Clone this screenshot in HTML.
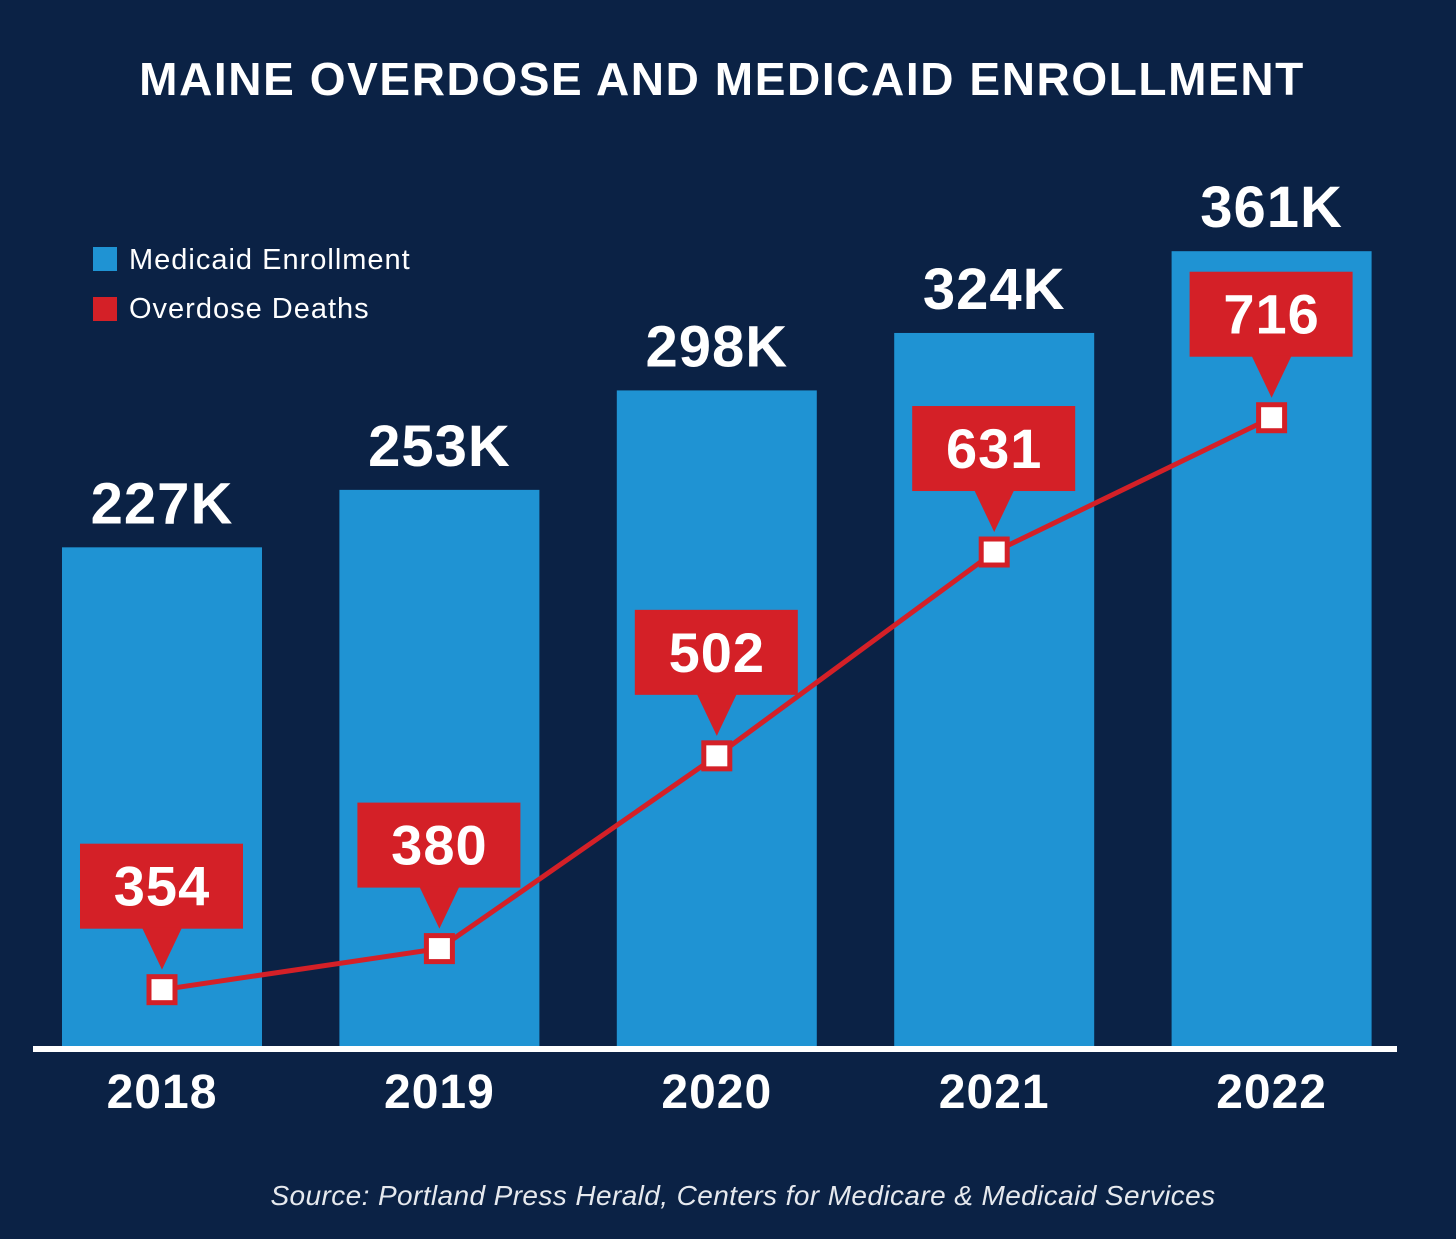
<!DOCTYPE html>
<html><head><meta charset="utf-8">
<style>
html,body{margin:0;padding:0;background:#0b2245;}
svg{display:block;font-family:"Liberation Sans",sans-serif;}
</style></head>
<body>
<svg id="chart" width="1456" height="1239" viewBox="0 0 1456 1239" xmlns="http://www.w3.org/2000/svg">
<rect x="0" y="0" width="1456" height="1239" fill="#0b2245"/>
<text x="722" y="95" text-anchor="middle" fill="#fff" font-size="46" font-weight="bold" letter-spacing="1.6">MAINE OVERDOSE AND MEDICAID ENROLLMENT</text>
<g>
<rect x="93" y="247" width="24" height="24" fill="#1f93d3"/>
<text x="129" y="269" fill="#fff" font-size="29" letter-spacing="1">Medicaid Enrollment</text>
<rect x="93" y="297" width="24" height="24" fill="#d42027"/>
<text x="129" y="318" fill="#fff" font-size="29" letter-spacing="1">Overdose Deaths</text>
</g>
<g id="bars"></g>
<g id="line"></g>
<g id="labels"></g>
<rect x="33" y="1046" width="1364" height="6" fill="#fff"/>
<g id="xaxis"></g>
<text x="743" y="1205" text-anchor="middle" fill="#e6e9ee" font-size="28" font-style="italic" letter-spacing="0.4">Source: Portland Press Herald, Centers for Medicare &amp; Medicaid Services</text>
</svg>
<script>
const years = ["2018","2019","2020","2021","2022"];
const enrollment = [227,253,298,324,361];
const enrollLabels = ["227K","253K","298K","324K","361K"];
const deaths = [354,380,502,631,716];
const NS="http://www.w3.org/2000/svg";
function mk(t,a,p){const e=document.createElementNS(NS,t);for(const k in a)e.setAttribute(k,a[k]);p.appendChild(e);return e;}
const xC=i=>162+i*277.4;
const yBar=v=>1049-v*2.21;
const yLine=v=>1549-v*1.58;
const bars=document.getElementById('bars'),line=document.getElementById('line'),labels=document.getElementById('labels'),xaxis=document.getElementById('xaxis');
years.forEach((y,i)=>{
  const top=yBar(enrollment[i]);
  const r=mk('rect',{x:xC(i)-100,y:top,width:200,height:1046-top,fill:'#1f93d3'},bars);
  
  
  const t=mk('text',{x:xC(i),y:top-24,'text-anchor':'middle',fill:'#fff','font-size':58,'font-weight':'bold','letter-spacing':1},labels);
  t.textContent=enrollLabels[i];
  
  
  const xt=mk('text',{x:xC(i),y:1108,'text-anchor':'middle',fill:'#fff','font-size':48,'font-weight':'bold','letter-spacing':1},xaxis);
  xt.textContent=y;
  
  
});
const pts=deaths.map((v,i)=>xC(i)+','+yLine(v)).join(' ');
const pl=mk('polyline',{points:pts,fill:'none',stroke:'#d42027','stroke-width':5},line);


deaths.forEach((v,i)=>{
  const x=xC(i),y=yLine(v);
  const m=mk('rect',{x:x-13,y:y-13,width:26,height:26,fill:'#fff',stroke:'#d42027','stroke-width':5},line);
  
  
  const g=mk('g',{},labels);
  
  
  const bb=y-61;
  mk('rect',{x:x-82,y:bb-85,width:163,height:85,fill:'#d42027'},g);
  mk('polygon',{points:(x-20)+','+(bb-1)+' '+(x+20)+','+(bb-1)+' '+x+','+(y-20),fill:'#d42027'},g);
  const t=mk('text',{x:x,y:bb-23,'text-anchor':'middle',fill:'#fff','font-size':56,'font-weight':'bold','letter-spacing':1},g);
  t.textContent=v;
});
</script>
</body></html>
